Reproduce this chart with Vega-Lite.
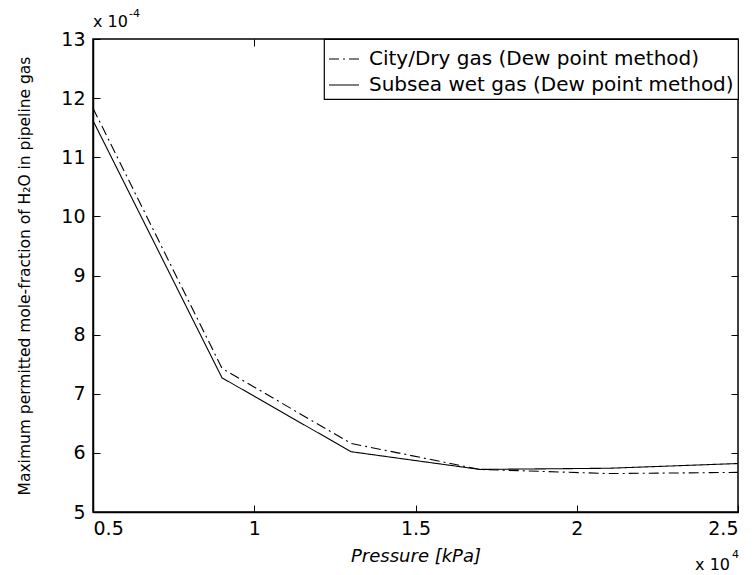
{
  "$schema": "https://vega.github.io/schema/vega-lite/v6.json",
  "width": 645,
  "height": 473,
  "autosize": "none",
  "padding": {"left": 93, "top": 39, "right": 17, "bottom": 63},
  "background": "white",
  "config": {
    "font": "DejaVu Sans",
    "view": {"stroke": "black", "strokeWidth": 1.5},
    "axis": {
      "grid": false,
      "domainColor": "black",
      "domainWidth": 1.5,
      "tickColor": "black",
      "tickWidth": 1,
      "tickSize": -7,
      "labelColor": "black",
      "labelFontSize": 19,
      "labelFont": "DejaVu Sans",
      "titleFont": "DejaVu Sans",
      "titleColor": "black",
      "titleFontWeight": "normal"
    }
  },
  "datasets": {
    "lines": [
      {"p": 0.5, "m": 11.83, "series": "City/Dry gas (Dew point method)"},
      {"p": 0.9, "m": 7.43, "series": "City/Dry gas (Dew point method)"},
      {"p": 1.3, "m": 6.16, "series": "City/Dry gas (Dew point method)"},
      {"p": 1.7, "m": 5.72, "series": "City/Dry gas (Dew point method)"},
      {"p": 2.1, "m": 5.65, "series": "City/Dry gas (Dew point method)"},
      {"p": 2.5, "m": 5.67, "series": "City/Dry gas (Dew point method)"},
      {"p": 0.5, "m": 11.62, "series": "Subsea wet gas (Dew point method)"},
      {"p": 0.9, "m": 7.27, "series": "Subsea wet gas (Dew point method)"},
      {"p": 1.3, "m": 6.02, "series": "Subsea wet gas (Dew point method)"},
      {"p": 1.7, "m": 5.72, "series": "Subsea wet gas (Dew point method)"},
      {"p": 2.1, "m": 5.74, "series": "Subsea wet gas (Dew point method)"},
      {"p": 2.5, "m": 5.82, "series": "Subsea wet gas (Dew point method)"}
    ],
    "ylabel": [{"p": 0.5, "m": 13, "t": "x 10", "s": "-4"}],
    "xlabel": [{"p": 2.5, "m": 5, "t": "x 10", "s": "4"}]
  },
  "layer": [
    {
      "data": {"name": "lines"},
      "mark": {"type": "line", "color": "black", "strokeWidth": 1.1},
      "encoding": {
        "x": {
          "field": "p", "type": "quantitative",
          "scale": {"domain": [0.5, 2.5], "nice": false, "zero": false},
          "axis": {
            "orient": "bottom",
            "values": [0.5, 1, 1.5, 2, 2.5],
            "format": "~g",
            "labelPadding": 14,
            "title": "Pressure [kPa]",
            "titleFontSize": 18,
            "titleFontStyle": "italic",
            "titlePadding": 9
          }
        },
        "y": {
          "field": "m", "type": "quantitative",
          "scale": {"domain": [5, 13], "nice": false, "zero": false},
          "axis": {
            "orient": "left",
            "values": [5, 6, 7, 8, 9, 10, 11, 12, 13],
            "format": "d",
            "labelPadding": 15,
            "title": "Maximum permitted mole-fraction of H₂O in pipeline gas",
            "titleFontSize": 15.5,
            "titlePadding": 28
          }
        },
        "strokeDash": {
          "field": "series", "type": "nominal",
          "scale": {
            "domain": ["City/Dry gas (Dew point method)", "Subsea wet gas (Dew point method)"],
            "range": [[10, 4, 2, 4], [1, 0]]
          },
          "legend": {
            "title": null,
            "orient": "top-right",
            "offset": 0,
            "strokeColor": "black",
            "fillColor": "white",
            "padding": 4,
            "labelFontSize": 20,
            "labelFont": "DejaVu Sans",
            "labelColor": "black",
            "labelLimit": 500,
            "labelOffset": 9,
            "symbolType": "stroke",
            "symbolSize": 900,
            "symbolStrokeColor": "black",
            "symbolStrokeWidth": 1.2,
            "rowPadding": -5,
            "encode": {"legend": {"update": {"strokeWidth": {"value": 1.2}}}}
          }
        }
      }
    },
    {
      "data": {"name": "lines"},
      "mark": {"type": "point", "opacity": 0},
      "encoding": {
        "x": {
          "field": "p", "type": "quantitative",
          "axis": {"orient": "top", "values": [0.5, 1, 1.5, 2, 2.5], "labels": false, "title": null, "domain": false}
        },
        "y": {
          "field": "m", "type": "quantitative",
          "axis": {"orient": "right", "values": [5, 6, 7, 8, 9, 10, 11, 12, 13], "labels": false, "title": null, "domain": false}
        }
      }
    },
    {
      "data": {"name": "ylabel"},
      "mark": {"type": "text", "align": "left", "baseline": "alphabetic", "fontSize": 16, "dy": -12, "color": "black"},
      "encoding": {
        "x": {"field": "p", "type": "quantitative", "axis": null},
        "y": {"field": "m", "type": "quantitative", "axis": null},
        "text": {"field": "t"}
      }
    },
    {
      "data": {"name": "ylabel"},
      "mark": {"type": "text", "align": "left", "baseline": "alphabetic", "fontSize": 11, "dx": 36, "dy": -22, "color": "black"},
      "encoding": {
        "x": {"field": "p", "type": "quantitative", "axis": null},
        "y": {"field": "m", "type": "quantitative", "axis": null},
        "text": {"field": "s"}
      }
    },
    {
      "data": {"name": "xlabel"},
      "mark": {"type": "text", "align": "right", "baseline": "alphabetic", "fontSize": 16, "dx": -8, "dy": 58, "color": "black"},
      "encoding": {
        "x": {"field": "p", "type": "quantitative", "axis": null},
        "y": {"field": "m", "type": "quantitative", "axis": null},
        "text": {"field": "t"}
      }
    },
    {
      "data": {"name": "xlabel"},
      "mark": {"type": "text", "align": "left", "baseline": "alphabetic", "fontSize": 11, "dx": -6, "dy": 46, "color": "black"},
      "encoding": {
        "x": {"field": "p", "type": "quantitative", "axis": null},
        "y": {"field": "m", "type": "quantitative", "axis": null},
        "text": {"field": "s"}
      }
    }
  ],
  "resolve": {"axis": {"x": "independent", "y": "independent"}}
}
